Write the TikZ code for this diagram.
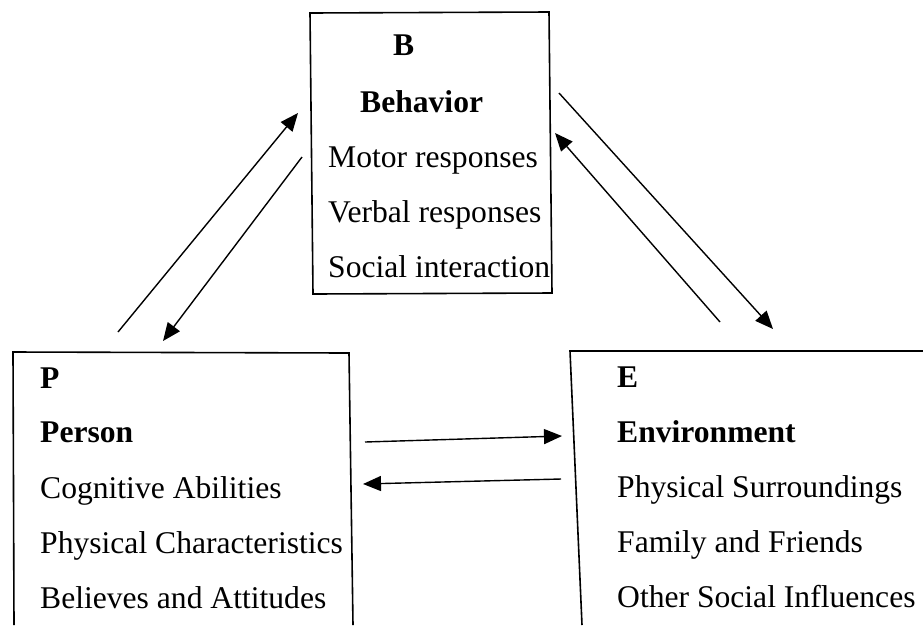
\documentclass[tikz,border=0pt]{standalone}
\usepackage{fontspec}
\setmainfont{Liberation Serif}
\usetikzlibrary{arrows.meta}
\tikzset{
    box/.style = {line width=1.6pt,draw=black},
    txt/.style = {anchor=base west,inner sep=0pt,font=\fontsize{31.6}{36}\selectfont},
    head/.style = {txt,font=\fontsize{31.6}{36}\selectfont\bfseries},
    edgen/.style = {-{Triangle[length=18pt,width=15pt]},line width=1.4pt},
}
\begin{document}
\begin{tikzpicture}[x=1pt,y=-1pt]
\path[use as bounding box] (0,0) rectangle (923,625);
%
% boxes
\draw[box] (310,13) coordinate (btl) -- (549,12) coordinate (btr)
  -- (552,293) coordinate (bbr) -- (313,294) coordinate (bbl) -- cycle;
\draw[box] (14,625) -- (13,352) coordinate (ptl) -- (349,353) coordinate (ptr) -- (353,625);
\draw[box] (582,625) -- (570,351) coordinate (etl) -- (930,351);
%
% behavior
\node[head] at (393,55) (bB) {B};
\node[head] at (360,112) (bname) {Behavior};
\node[txt] at (328,167) (b1) {Motor responses};
\node[txt] at (328,222) (b2) {Verbal responses};
\node[txt] at (328,277) (b3) {Social interaction};
%
% person
\node[head] at (40,388) (pP) {P};
\node[head] at (40,442) (pname) {Person};
\node[txt] at (40,498) (p1) {Cognitive Abilities};
\node[txt] at (40,553) (p2) {Physical Characteristics};
\node[txt] at (40,608) (p3) {Believes and Attitudes};
%
% environment
\node[head] at (617,387) (eE) {E};
\node[head] at (617,442) (ename) {Environment};
\node[txt] at (617,497) (e1) {Physical Surroundings};
\node[txt] at (617,552) (e2) {Family and Friends};
\node[txt] at (617,607) (e3) {Other Social Influences};
%
% arrow ends
\coordinate (pb1) at (118,332);  \coordinate (pb2) at (298,113);
\coordinate (bp1) at (302,157);  \coordinate (bp2) at (163,341);
\coordinate (be1) at (559,93);   \coordinate (be2) at (773,329);
\coordinate (eb1) at (720,322);  \coordinate (eb2) at (555,133);
\coordinate (pe1) at (365,442);  \coordinate (pe2) at (562,436);
\coordinate (ep1) at (561,479);  \coordinate (ep2) at (363,484);
%
\draw[edgen] (pb1) -- (pb2);
\draw[edgen] (bp1) -- (bp2);
\draw[edgen] (be1) -- (be2);
\draw[edgen] (eb1) -- (eb2);
\draw[edgen] (pe1) -- (pe2);
\draw[edgen] (ep1) -- (ep2);
\end{tikzpicture}
\end{document}
